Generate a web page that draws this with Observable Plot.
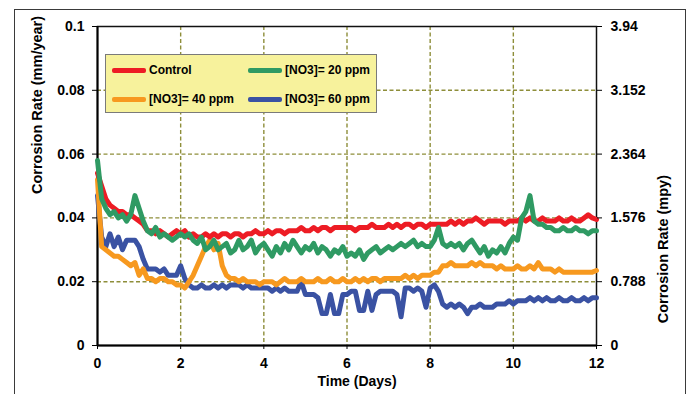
<!DOCTYPE html>
<html><head><meta charset="utf-8">
<script src="https://cdn.jsdelivr.net/npm/d3@7"></script>
<script src="https://cdn.jsdelivr.net/npm/@observablehq/plot@0.6"></script>
<style>
body{margin:0;background:#fff;}
#wrap{position:relative;width:687px;height:394px;overflow:hidden;font-family:Arial,"Liberation Sans",sans-serif;}
#border{position:absolute;left:14px;top:9px;width:670px;height:420px;border:1px solid #3a3a3a;pointer-events:none;}
#legend{position:absolute;left:105px;top:54px;width:270px;height:57px;background:#F7F29C;border:1px solid #7a7a7a;font-weight:bold;font-size:12px;color:#000;}
.sw{position:absolute;width:34px;height:4.5px;border-radius:2px;}
.lt{position:absolute;line-height:14px;white-space:nowrap;}
</style></head>
<body>
<div id="wrap"><div id="chart"></div><div id="border"></div><div id="legend"></div></div>
<script>
// Time step (days) between readings
const step = 0.1;
const seriesNames = ["Control", "[NO3]= 20 ppm", "[NO3]= 40 ppm", "[NO3]= 60 ppm"];
const seriesColors = ["#ED1C24", "#2F9A63", "#F7991F", "#3A52A3"];
const xTicks = [0, 2, 4, 6, 8, 10, 12];
const yTicks = [0, 0.02, 0.04, 0.06, 0.08, 0.1];
const leftTickLabels = ["0", "0.02", "0.04", "0.06", "0.08", "0.1"];
const rightTickLabels = ["0", "0.788", "1.576", "2.364", "3.152", "3.94"];
const xGridValues = [2, 4, 6, 8, 10];
const yGridValues = [0.02, 0.04, 0.06, 0.08];

const control = [
0.054,0.050,0.046,0.044,0.043,0.042,0.042,0.041,0.041,0.040,
0.039,0.038,0.036,0.036,0.035,0.036,0.035,0.034,0.035,0.036,
0.035,0.036,0.034,0.035,0.034,0.034,0.035,0.034,0.035,0.034,
0.035,0.035,0.034,0.035,0.035,0.034,0.035,0.035,0.036,0.035,
0.035,0.036,0.035,0.036,0.036,0.035,0.036,0.036,0.036,0.037,
0.036,0.036,0.037,0.036,0.037,0.037,0.036,0.037,0.037,0.037,
0.037,0.037,0.036,0.037,0.037,0.037,0.038,0.037,0.037,0.037,
0.038,0.037,0.038,0.037,0.038,0.038,0.037,0.038,0.038,0.037,
0.038,0.038,0.038,0.038,0.038,0.039,0.038,0.039,0.038,0.039,
0.039,0.040,0.039,0.038,0.039,0.039,0.039,0.039,0.038,0.039,
0.039,0.039,0.040,0.039,0.040,0.039,0.039,0.040,0.039,0.039,
0.039,0.040,0.039,0.039,0.040,0.039,0.039,0.040,0.041,0.040,
0.0395];
const no3_20 = [
0.058,0.046,0.043,0.041,0.042,0.040,0.041,0.039,0.041,0.047,
0.043,0.039,0.036,0.035,0.037,0.034,0.035,0.034,0.033,0.034,
0.035,0.034,0.035,0.033,0.032,0.034,0.030,0.031,0.033,0.030,
0.031,0.032,0.029,0.030,0.033,0.030,0.031,0.033,0.029,0.031,
0.032,0.030,0.028,0.031,0.029,0.032,0.030,0.033,0.031,0.029,
0.031,0.030,0.032,0.029,0.031,0.030,0.028,0.030,0.029,0.031,
0.028,0.029,0.028,0.030,0.027,0.029,0.030,0.031,0.029,0.030,
0.031,0.030,0.031,0.032,0.031,0.032,0.033,0.031,0.032,0.031,
0.031,0.033,0.037,0.032,0.031,0.032,0.031,0.032,0.030,0.032,
0.033,0.031,0.029,0.031,0.028,0.030,0.029,0.031,0.029,0.032,
0.034,0.033,0.040,0.042,0.047,0.039,0.038,0.038,0.037,0.037,
0.036,0.036,0.037,0.036,0.036,0.037,0.036,0.036,0.035,0.036,
0.036];
const no3_40 = [
0.052,0.031,0.030,0.029,0.028,0.028,0.027,0.026,0.025,0.026,
0.022,0.024,0.021,0.021,0.020,0.021,0.021,0.020,0.020,0.019,
0.019,0.018,0.020,0.022,0.025,0.028,0.031,0.033,0.030,0.032,
0.025,0.022,0.021,0.021,0.020,0.021,0.020,0.020,0.020,0.019,
0.020,0.020,0.020,0.019,0.020,0.021,0.020,0.020,0.020,0.021,
0.020,0.020,0.020,0.021,0.020,0.020,0.021,0.020,0.020,0.021,
0.020,0.020,0.021,0.020,0.021,0.020,0.021,0.021,0.020,0.021,
0.021,0.021,0.021,0.021,0.022,0.021,0.022,0.021,0.022,0.022,
0.022,0.023,0.023,0.025,0.025,0.026,0.025,0.025,0.025,0.025,
0.026,0.025,0.026,0.025,0.025,0.025,0.024,0.025,0.024,0.024,
0.024,0.025,0.024,0.024,0.025,0.024,0.026,0.024,0.024,0.024,
0.023,0.024,0.023,0.023,0.023,0.023,0.023,0.023,0.023,0.023,
0.0235];
const no3_60 = [
0.047,0.034,0.031,0.035,0.031,0.034,0.030,0.033,0.033,0.033,
0.031,0.027,0.024,0.024,0.024,0.023,0.024,0.022,0.022,0.022,
0.025,0.021,0.019,0.018,0.018,0.019,0.018,0.018,0.019,0.018,
0.019,0.018,0.019,0.019,0.019,0.018,0.019,0.018,0.018,0.018,
0.018,0.018,0.017,0.018,0.017,0.018,0.017,0.017,0.017,0.020,
0.016,0.016,0.016,0.015,0.010,0.010,0.016,0.010,0.010,0.016,
0.016,0.017,0.017,0.011,0.011,0.017,0.011,0.016,0.017,0.017,
0.017,0.017,0.016,0.009,0.018,0.018,0.017,0.018,0.017,0.012,
0.018,0.019,0.017,0.013,0.012,0.013,0.012,0.013,0.012,0.010,
0.012,0.012,0.013,0.012,0.012,0.012,0.013,0.013,0.013,0.014,
0.013,0.014,0.014,0.014,0.015,0.014,0.015,0.014,0.015,0.014,
0.014,0.015,0.014,0.014,0.015,0.014,0.014,0.015,0.014,0.015,
0.015];

const seriesValues = [control, no3_20, no3_40, no3_60];
const drawOrder = [3, 2, 0, 1];
const rows = [];
drawOrder.forEach(s => seriesValues[s].forEach((v, i) =>
  rows.push({day: +(i * step).toFixed(2), rate: v, series: seriesNames[s]})));

const font = 'Arial, "Liberation Sans", sans-serif';
const gridStyle = {stroke: "#8E8E3A", strokeOpacity: 1, strokeWidth: 1.4, strokeDasharray: "4,2.5"};

const chart = Plot.plot({
  width: 687, height: 394,
  marginLeft: 97, marginRight: 91, marginTop: 26, marginBottom: 49,
  style: {fontFamily: font, fontSize: "14px", fontWeight: "bold", color: "#000", background: "transparent", overflow: "visible"},
  x: {domain: [0, 12]},
  y: {domain: [0, 0.1]},
  color: {domain: seriesNames, range: seriesColors},
  marks: [
    Plot.gridX(xGridValues, gridStyle),
    Plot.gridY(yGridValues, gridStyle),
    Plot.frame({stroke: "#111", strokeWidth: 1.5}),
    Plot.ruleX([0], {stroke: "#000", strokeWidth: 2}),
    Plot.ruleY([0], {stroke: "#000", strokeWidth: 2}),
    Plot.line(rows, {x: "day", y: "rate", z: "series", stroke: "series", strokeWidth: 5, strokeLinejoin: "round", strokeLinecap: "round"}),
    Plot.axisX({ticks: xTicks, tickFormat: d => String(d), tickSize: 4, tickPadding: 9, label: null, stroke: "#000"}),
    Plot.axisY({anchor: "left", ticks: yTicks, tickFormat: (d, i) => leftTickLabels[yTicks.indexOf(d)], tickSize: 5, tickPadding: 8, label: null}),
    Plot.axisY({anchor: "right", ticks: yTicks, tickFormat: (d, i) => rightTickLabels[yTicks.indexOf(d)], tickSize: 5, tickPadding: 9, label: null}),
    Plot.text(["Time (Days)"], {frameAnchor: "bottom", dx: 10, dy: 40, text: d => d, fontSize: 14, fontWeight: "bold", fill: "#000"}),
    Plot.text(["Corrosion Rate (mm/year)"], {frameAnchor: "left", dx: -60, dy: 8, rotate: -90, text: d => d, fontSize: 14.5, fontWeight: "bold", fill: "#000"}),
    Plot.text(["Corrosion Rate (mpy)"], {frameAnchor: "right", dx: 67, dy: -11, rotate: -90, text: d => d, fontSize: 14.5, fontWeight: "bold", fill: "#000"})
  ]
});
document.getElementById("chart").appendChild(chart);

// legend (two columns, two rows)
const legend = document.getElementById("legend");
const legendPos = [[0, 0], [1, 0], [0, 1], [1, 1]];
seriesNames.forEach((name, i) => {
  const [c, r] = legendPos[i];
  const left = 6 + c * 136, top = 15 + r * 29;
  const sw = document.createElement("div");
  sw.className = "sw"; sw.style.background = seriesColors[i];
  sw.style.left = left + "px"; sw.style.top = (top - 2) + "px";
  legend.appendChild(sw);
  const t = document.createElement("div");
  t.className = "lt"; t.textContent = name;
  t.style.left = (left + 37) + "px"; t.style.top = (top - 7) + "px";
  legend.appendChild(t);
});
</script>
</body></html>
